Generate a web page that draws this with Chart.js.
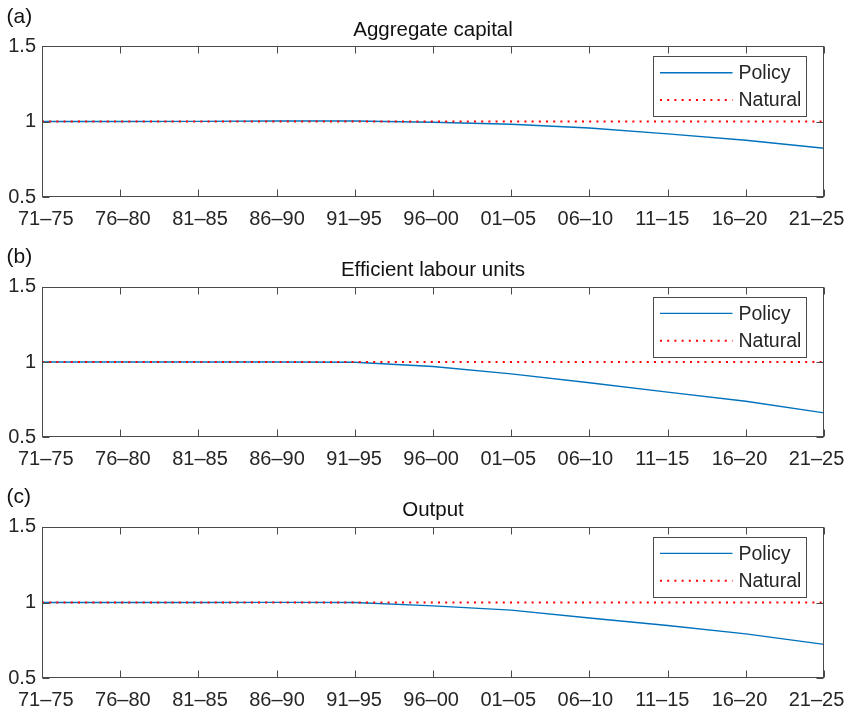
<!DOCTYPE html>
<html>
<head>
<meta charset="utf-8">
<script src="https://cdn.jsdelivr.net/npm/chart.js@4.4.1/dist/chart.umd.min.js"></script>
<style>
  html, body { margin: 0; padding: 0; background: #ffffff; }
  .panel { position: absolute; left: 0; width: 849px; }
  canvas { display: block; }
</style>
</head>
<body>
<div class="panel" style="top:0px"><canvas id="cA" width="849" height="240"></canvas></div>
<div class="panel" style="top:240px"><canvas id="cB" width="849" height="240"></canvas></div>
<div class="panel" style="top:480px"><canvas id="cC" width="849" height="232"></canvas></div>
<script>
// ---- data ----
const categories = ['71\u201375','76\u201380','81\u201385','86\u201390','91\u201395','96\u201300','01\u201305','06\u201310','11\u201315','16\u201320','21\u201325'];
const capitalPolicy = [1.000, 1.000, 1.001, 1.003, 1.003, 0.995, 0.982, 0.957, 0.918, 0.876, 0.823];
const capitalNatural = [1, 1, 1, 1, 1, 1, 1, 1, 1, 1, 1];
const labourPolicy = [1.000, 1.000, 1.000, 1.000, 0.998, 0.970, 0.921, 0.862, 0.800, 0.739, 0.662];
const labourNatural = [1, 1, 1, 1, 1, 1, 1, 1, 1, 1, 1];
const outputPolicy = [1.000, 1.000, 1.000, 1.001, 1.000, 0.978, 0.950, 0.898, 0.848, 0.793, 0.724];
const outputNatural = [1, 1, 1, 1, 1, 1, 1, 1, 1, 1, 1];
const yTickValues = [0.5, 1, 1.5];
const yTickLabels = ['0.5', '1', '1.5'];
const seriesNames = ['Policy', 'Natural'];
const panelTitles = ['Aggregate capital', 'Efficient labour units', 'Output'];
const panelLetters = ['(a)', '(b)', '(c)'];

// ---- styling ----
const FONT = '"Liberation Sans", Arial, Helvetica, sans-serif';
const AXIS_COLOR = '#4a4a4a';
const TEXT_COLOR = '#262626';
const BLUE = '#0072BD';
const RED = '#FF0000';

const framePlugin = {
  id: 'frame',
  afterDatasetsDraw(chart, args, opts) {
    const ctx = chart.ctx;
    const a = chart.chartArea;
    const xs = chart.scales.x, ys = chart.scales.y;
    const L = Math.round(a.left) + 0.5, R = Math.round(a.right) - 0.5;
    const T = Math.round(a.top) + 0.5, B = Math.round(a.bottom) - 0.5;
    ctx.save();
    ctx.strokeStyle = AXIS_COLOR;
    ctx.lineWidth = 1;
    ctx.beginPath();
    const tl = 7;
    categories.forEach((c, i) => {
      const px = Math.round(xs.getPixelForValue(i)) + 0.5;
      ctx.moveTo(px, B); ctx.lineTo(px, B - tl);
      ctx.moveTo(px, T); ctx.lineTo(px, T + tl);
    });
    yTickValues.forEach(v => {
      const py = Math.round(ys.getPixelForValue(v)) + 0.5;
      ctx.moveTo(L, py); ctx.lineTo(L + tl, py);
      ctx.moveTo(R, py); ctx.lineTo(R - tl, py);
    });
    ctx.stroke();
    // x category labels (from the category scale positions)
    ctx.fillStyle = TEXT_COLOR;
    ctx.font = '20px ' + FONT;
    ctx.textAlign = 'center';
    ctx.textBaseline = 'alphabetic';
    categories.forEach((c, i) => {
      const px = xs.getPixelForValue(i);
      const cx = a.left + 3.8 + (px - a.left) * 0.9856;
      ctx.fillText(c, cx, a.bottom + 27.8);
    });
    // legend box
    const bx0 = a.right - 171.5, bx1 = a.right - 19;
    const by0 = a.top + 10, by1 = a.top + 70;
    ctx.fillStyle = '#ffffff';
    ctx.fillRect(bx0, by0, bx1 - bx0, by1 - by0);
    ctx.strokeStyle = AXIS_COLOR;
    ctx.strokeRect(Math.round(bx0) + 0.5, Math.round(by0) + 0.5, Math.round(bx1 - bx0), Math.round(by1 - by0));
    const ds = chart.data.datasets;
    const rows = [by0 + 16.7, by0 + 44];
    ds.forEach((d, i) => {
      ctx.save();
      ctx.strokeStyle = d.borderColor;
      ctx.lineWidth = d.borderWidth;
      ctx.setLineDash(d.borderDash || []);
      ctx.beginPath();
      ctx.moveTo(bx0 + 7.5, rows[i]);
      ctx.lineTo(bx0 + 80, rows[i]);
      ctx.stroke();
      ctx.restore();
      ctx.fillStyle = TEXT_COLOR;
      ctx.font = '19.5px ' + FONT;
      ctx.textBaseline = 'middle';
      ctx.textAlign = 'left';
      ctx.fillText(d.label, bx0 + 86, rows[i] + 1);
    });
    // box
    ctx.strokeStyle = AXIS_COLOR;
    ctx.strokeRect(L, T, R - L, B - T);
    // titles
    ctx.fillStyle = '#111111';
    ctx.font = '20.5px ' + FONT;
    ctx.textBaseline = 'alphabetic';
    ctx.textAlign = 'center';
    ctx.fillText(opts.title, (a.left + a.right) / 2, 35.5);
    ctx.textAlign = 'left';
    ctx.font = '21px ' + FONT;
    ctx.fillText(opts.letter, 6.5, 23);
    ctx.restore();
  }
};

function makePanel(id, idx, policy, natural, top, bottom, height) {
  new Chart(document.getElementById(id), {
    type: 'line',
    data: {
      labels: categories,
      datasets: [
        { label: seriesNames[0], data: policy, borderColor: BLUE, borderWidth: 1.4, pointRadius: 0, tension: 0, order: 2, fill: false },
        { label: seriesNames[1], data: natural, borderColor: RED, borderWidth: 2, borderDash: [2, 5.2], pointRadius: 0, tension: 0, order: 1, fill: false }
      ]
    },
    options: {
      responsive: false,
      animation: false,
      devicePixelRatio: 1,
      layout: { padding: { left: 0, right: 25, top: top, bottom: 0 } },
      plugins: {
        legend: { display: false },
        title: { display: false },
        tooltip: { enabled: false },
        frame: { title: panelTitles[idx], letter: panelLetters[idx] }
      },
      scales: {
        x: {
          type: 'category',
          offset: false,
          grid: { display: false, drawTicks: false },
          border: { display: false },
          ticks: { display: false, autoSkip: false },
          afterFit(s) { s.height = height - bottom; s.paddingLeft = 0; s.paddingRight = 0; }
        },
        y: {
          min: 0.5, max: 1.5,
          afterBuildTicks(s) { s.ticks = yTickValues.map(v => ({ value: v })); },
          grid: { display: false, drawTicks: false },
          border: { display: false },
          ticks: {
            color: TEXT_COLOR, font: { family: FONT, size: 20 }, padding: 6,
            callback: (v) => { const k = yTickValues.indexOf(v); return k >= 0 ? yTickLabels[k] : ''; }
          },
          afterFit(s) { s.width = 42; }
        }
      }
    },
    plugins: [framePlugin]
  });
}

makePanel('cA', 0, capitalPolicy, capitalNatural, 46, 197, 240);
makePanel('cB', 1, labourPolicy, labourNatural, 46.7, 197.3, 240);
makePanel('cC', 2, outputPolicy, outputNatural, 46.7, 198.3, 232);
</script>
</body>
</html>
